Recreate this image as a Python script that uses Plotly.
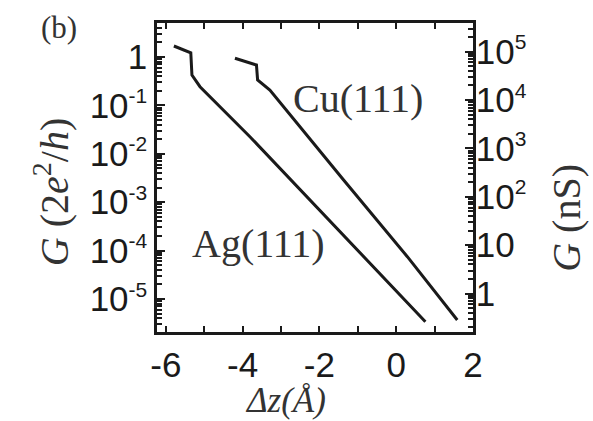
import plotly.graph_objects as go
import math

# ---- data ----
ag_dz = [-5.79, -5.35, -5.32, -5.11, -3.81, -1.72, 0.76]
ag_G = [1.687, 1.222, 0.4246, 0.2432, 0.02254, 3.954e-4, 3.396e-6]

cu_dz = [-4.20, -3.64, -3.61, -3.29, -1.37, 0.29, 1.59]
cu_G = [0.9397, 0.6839, 0.3350, 0.2080, 2.877e-3, 7.482e-5, 3.681e-6]

x_tickvals = [-6, -5, -4, -3, -2, -1, 0, 1, 2]
x_ticktext = ["-6", "", "-4", "", "-2", "", "0", "", "2"]

yl_tickvals = [1e-5, 1e-4, 1e-3, 1e-2, 1e-1, 1]
yl_exps = ["-5", "-4", "-3", "-2", "-1"]

yr_tickvals = [1, 10, 1e2, 1e3, 1e4, 1e5]
yr_exps = ["2", "3", "4", "5"]

G0_nS = 77480.9  # 2e^2/h in nS

SUP = "<sup><span style='font-size:21px'>{}</span></sup>"
yl_ticktext = ["10" + SUP.format(e) for e in yl_exps] + ["1"]
yr_ticktext = ["1", "10"] + ["10" + SUP.format(e) for e in yr_exps]

def minor_vals(lo, hi):
    out = []
    for d in range(lo, hi + 1):
        for m in range(2, 10):
            out.append(m * 10.0 ** d)
    return out

sans = "Liberation Sans"
serif = "Liberation Serif"
ink = "#1a1a1a"

fig = go.Figure()
fig.add_trace(go.Scatter(x=ag_dz, y=ag_G, mode="lines",
                         line=dict(color=ink, width=3), showlegend=False))
fig.add_trace(go.Scatter(x=cu_dz, y=cu_G, mode="lines",
                         line=dict(color=ink, width=3), showlegend=False))
# invisible trace for right axis
fig.add_trace(go.Scatter(x=[None], y=[None], yaxis="y2", showlegend=False))

ylo, yhi = -5.682, 0.702
off = math.log10(G0_nS)

fig.update_layout(
    width=593, height=421, autosize=False,
    margin=dict(l=157, r=120, t=23, b=89),
    plot_bgcolor="white", paper_bgcolor="white",
    xaxis=dict(range=[-6.23, 2.0], tickmode="array", tickvals=x_tickvals,
               ticktext=x_ticktext, ticks="inside", ticklen=6, tickwidth=2,
               tickcolor=ink, showline=True, linecolor=ink, linewidth=2.5,
               mirror="ticks", showgrid=False, zeroline=False,
               tickfont=dict(family=sans, size=35, color=ink)),
    yaxis=dict(type="log", range=[ylo, yhi], tickmode="array",
               tickvals=yl_tickvals, ticktext=yl_ticktext, ticks="inside",
               ticklen=8, tickwidth=2, tickcolor=ink, showline=True,
               linecolor=ink, linewidth=2.5, showgrid=False, zeroline=False,
               tickfont=dict(family=sans, size=35, color=ink),
               minor=dict(tickmode="array", tickvals=minor_vals(-6, 0),
                          ticks="inside", ticklen=5, tickwidth=1.5,
                          tickcolor=ink, showgrid=False)),
    yaxis2=dict(type="log", overlaying="y", side="right",
                range=[ylo + off, yhi + off], tickmode="array",
                tickvals=yr_tickvals, ticktext=yr_ticktext, ticks="inside",
                ticklen=8, tickwidth=2, tickcolor=ink, showline=True,
                linecolor=ink, linewidth=2.5, showgrid=False, zeroline=False,
                ticklabelstandoff=-7,
                tickfont=dict(family=sans, size=35, color=ink),
                minor=dict(tickmode="array", tickvals=minor_vals(-1, 5),
                           ticks="inside", ticklen=5, tickwidth=1.5,
                           tickcolor=ink, showgrid=False)),
)

ann = [
    dict(x=-0.335, y=0.453, text="<i>G</i> (2<i>e</i><sup>2</sup>/<i>h</i>)",
         textangle=-90, size=40),
    dict(x=1.297, y=0.369, text="<i>G</i> (nS)", textangle=-90, size=40),
    dict(x=0.408, y=-0.222, text="<i>Δz(Å)</i>", textangle=0, size=35),
    dict(x=-0.310, y=0.987, text="(b)", textangle=0, size=31),
    dict(x=0.636, y=0.757, text="Cu(111)", textangle=0, size=40),
    dict(x=0.320, y=0.285, text="Ag(111)", textangle=0, size=40),
]
for a in ann:
    fig.add_annotation(x=a["x"], y=a["y"], xref="paper", yref="paper",
                       text=a["text"], textangle=a["textangle"],
                       showarrow=False, xanchor="center", yanchor="middle",
                       font=dict(family=serif, size=a["size"], color="#333"))

fig.write_html("out.html")
